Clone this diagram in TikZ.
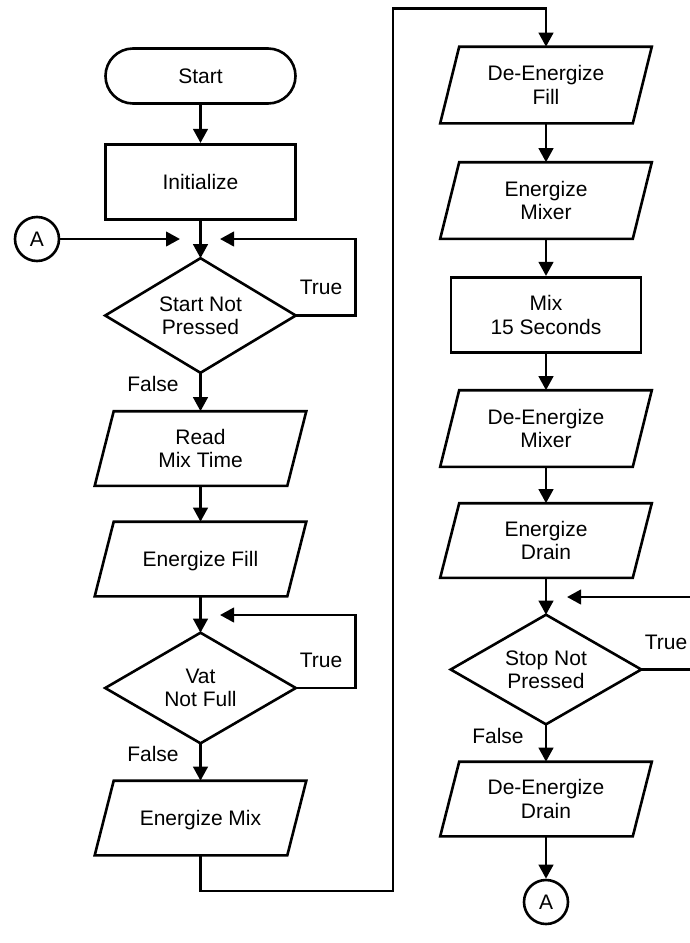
\documentclass[tikz,border=0pt]{standalone}
\usepackage{fontspec}
\setmainfont{Liberation Sans}
\usetikzlibrary{arrows.meta}
\begin{document}
\begin{tikzpicture}[x=1pt,y=-1pt, line width=2.6pt, line join=miter,
  every node/.style={font=\fontsize{21}{23.3}\selectfont, align=center, text depth=0pt, inner sep=0pt},
  arr/.style={-{Triangle[length=14pt,width=14.5pt]}},
  term/.style={draw, rounded corners=27.5pt, minimum width=190pt, minimum height=55pt},
  proc/.style={draw, minimum width=190pt, minimum height=75.5pt},
  para/.style={minimum width=190pt, minimum height=72pt,
    append after command={\pgfextra{\draw[line join=miter] ([xshift=9.5pt]\tikzlastnode.north west) -- ([xshift=9.5pt]\tikzlastnode.north east) -- ([xshift=-9.5pt]\tikzlastnode.south east) -- ([xshift=-9.5pt]\tikzlastnode.south west) -- cycle;}}},
  dec/.style={minimum width=188pt,
    append after command={\pgfextra{\draw[line join=miter] (\tikzlastnode.north) -- (\tikzlastnode.east) -- (\tikzlastnode.south) -- (\tikzlastnode.west) -- cycle;}}},
  conn/.style={draw, circle, minimum size=44pt},
  lbl/.style={}
]
\useasboundingbox (0,0) rectangle (690,943);

% left column
\node[term] (start) at (200.5,76) {Start};
\node[proc] (init) at (200.5,182) {Initialize};
\node[dec, minimum height=112pt] (d1) at (200.5,315.5) {Start Not\\Pressed};
\node[para] (read) at (200.5,448.5) {Read\\Mix Time};
\node[para] (efill) at (200.5,559) {Energize Fill};
\node[dec, minimum height=108pt] (d2) at (200.5,688) {Vat\\Not Full};
\node[para] (emix) at (200.5,818) {Energize Mix};
\node[conn] (a1) at (37,239) {A};

% right column
\node[para, minimum height=74pt] (dfill) at (546,85) {De-Energize\\Fill};
\node[para, minimum height=74pt] (emixer) at (546,200.5) {Energize\\Mixer};
\node[proc] (mix15) at (546,315) {Mix\\15 Seconds};
\node[para, minimum height=74pt] (dmixer) at (546,428.5) {De-Energize\\Mixer};
\node[para] (edrain) at (546,540.5) {Energize\\Drain};
\node[dec, minimum height=107pt] (d3) at (546,669.5) {Stop Not\\Pressed};
\node[para] (ddrain) at (546,799) {De-Energize\\Drain};
\node[conn] (a2) at (546,902) {A};

% labels
\node[lbl] (t1) at (321,287.5) {True};
\node[lbl] (f1) at (153,383.5) {False};
\node[lbl] (t2) at (321,660.5) {True};
\node[lbl] (f2) at (153,753.5) {False};
\node[lbl] (t3) at (666,642.5) {True};
\node[lbl] (f3) at (498,735.5) {False};

% coordinates
\coordinate (j1l) at (180,239);
\coordinate (j1r) at (220,239);
\coordinate (j2r) at (220,615);
\coordinate (j3r) at (567,597);
\coordinate (e1) at (690,669.5);
\coordinate (e2) at (690,597);
\coordinate (b1) at (393,891);
\coordinate (b2) at (393,8.7);

% left connectors
\draw[arr] (start) -- (init);
\draw[arr] (init.south) -- (d1.north);
\draw[arr] (d1.south) -- (read.north);
\draw[arr] (read.south) -- (efill.north);
\draw[arr] (efill.south) -- (d2.north);
\draw[arr] (d2.south) -- (emix.north);
\draw[arr] (a1) -- (j1l);
\draw[arr] (d1.east) -- ++(59.5,0) |- (j1r);
\draw[arr] (d2.east) -- ++(59.5,0) |- (j2r);
\draw[arr] (emix.south) |- (b1) -- (b2) -| (dfill.north);

% right connectors
\draw[arr] (dfill.south) -- (emixer.north);
\draw[arr] (emixer.south) -- (mix15.north);
\draw[arr] (mix15.south) -- (dmixer.north);
\draw[arr] (dmixer.south) -- (edrain.north);
\draw[arr] (edrain.south) -- (d3.north);
\draw[arr] (d3.south) -- (ddrain.north);
\draw[arr] (ddrain.south) -- (a2);
\draw (d3.east) -- (e1);
\draw[arr] (e2) -- (j3r);
\end{tikzpicture}
\end{document}
